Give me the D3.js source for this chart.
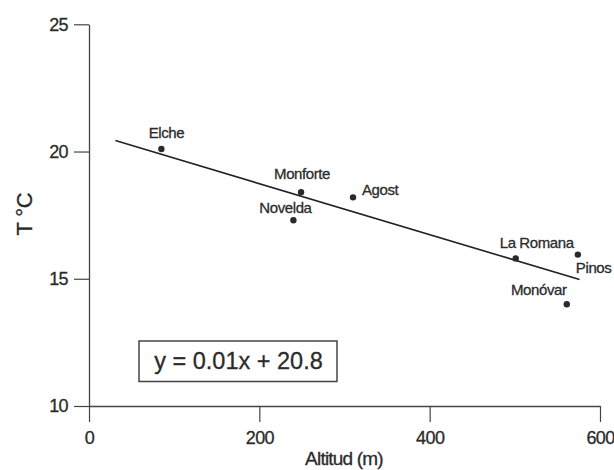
<!DOCTYPE html>
<html>
<head>
<meta charset="utf-8">
<script src="https://cdn.jsdelivr.net/npm/d3@7"></script>
<style>
  html, body { margin: 0; padding: 0; background: #fff; }
  svg { display: block; font-family: "Liberation Sans", Arial, sans-serif; }
</style>
</head>
<body>
<svg id="chart" width="614" height="470"></svg>
<script>
// ---- data ----
const stations = ["Elche", "Monforte", "Novelda", "Agost", "La Romana", "Pinos", "Monóvar"];
const altitude = [85, 249, 240, 310, 501, 574, 561];
const temperature = [20.1, 18.4, 17.3, 18.2, 15.8, 15.95, 14.0];
const fitX = [31, 576];
const fitY = [20.43, 14.97];
const xTicks = [0, 200, 400, 600];
const yTicks = [10, 15, 20, 25];
const equationText = "y = 0.01x + 20.8";

// ---- layout ----
const svg = d3.select("#chart");
const ink = "#2b2b2b";
const x = d3.scaleLinear().domain([0, 600]).range([89, 600]);
const y = d3.scaleLinear().domain([10, 25]).range([406, 24.3]);

// label placement: [dx, dy, anchor]
const labelPos = {
  "Elche": [5, -11, "middle"],
  "Monforte": [1, -13, "middle"],
  "Novelda": [-8, -7, "middle"],
  "Agost": [9, -2, "start"],
  "La Romana": [21, -10, "middle"],
  "Pinos": [-2, 18, "start"],
  "Monóvar": [-28, -9, "middle"]
};

const heavy = sel => sel.attr("stroke", ink).attr("stroke-width", 0.3);

// axes
const yAxis = d3.axisLeft(y).tickValues(yTicks).tickSize(15).tickSizeOuter(0).tickPadding(6);
const xAxis = d3.axisBottom(x).tickValues(xTicks).tickSize(16).tickSizeOuter(0).tickPadding(9);

const gy = svg.append("g").attr("transform", `translate(${x(0)},0)`).call(yAxis);
const gx = svg.append("g").attr("transform", `translate(0,${y(10)})`).call(xAxis);

[gx, gy].forEach(g => {
  g.select(".domain").attr("stroke", "#444").attr("stroke-width", 1.3);
  g.selectAll(".tick line").attr("stroke", "#444").attr("stroke-width", 1.2);
  g.selectAll(".tick text").attr("fill", ink).attr("font-size", 18)
    .attr("font-family", "'Liberation Sans', Arial, sans-serif").attr("letter-spacing", -0.6)
    .call(heavy);
});

// axis titles
svg.append("text")
  .attr("x", 344).attr("y", 465)
  .attr("text-anchor", "middle")
  .attr("font-size", 19).attr("letter-spacing", -0.8)
  .attr("fill", ink).call(heavy)
  .text("Altitud (m)");

svg.append("text")
  .attr("transform", "translate(32,214) rotate(-90)")
  .attr("text-anchor", "middle")
  .attr("font-size", 22).attr("letter-spacing", -0.2)
  .attr("fill", ink).call(heavy)
  .text("T °C");

// regression line
const fit = fitX.map((v, i) => [v, fitY[i]]);
svg.append("path")
  .datum(fit)
  .attr("fill", "none")
  .attr("stroke", "#222")
  .attr("stroke-width", 1.6)
  .attr("d", d3.line().x(d => x(d[0])).y(d => y(d[1])));

// points
const pts = stations.map((s, i) => ({ name: s, alt: altitude[i], t: temperature[i] }));
svg.append("g").selectAll("circle")
  .data(pts).join("circle")
  .attr("cx", d => x(d.alt))
  .attr("cy", d => y(d.t))
  .attr("r", 3.2)
  .attr("fill", "#2a2a2a");

svg.append("g").selectAll("text")
  .data(pts).join("text")
  .attr("x", d => x(d.alt) + labelPos[d.name][0])
  .attr("y", d => y(d.t) + labelPos[d.name][1])
  .attr("text-anchor", d => labelPos[d.name][2])
  .attr("font-size", 15).attr("letter-spacing", -0.4)
  .attr("fill", ink).call(heavy)
  .text(d => d.name);

// equation box
svg.append("rect")
  .attr("x", 139).attr("y", 341).attr("width", 198).attr("height", 40.5)
  .attr("fill", "#fff").attr("stroke", "#444").attr("stroke-width", 1.5);
svg.append("text")
  .attr("x", 238.5).attr("y", 368.5)
  .attr("text-anchor", "middle")
  .attr("font-size", 23.5).attr("letter-spacing", 0)
  .attr("fill", ink).call(heavy)
  .text(equationText);
</script>
</body>
</html>
